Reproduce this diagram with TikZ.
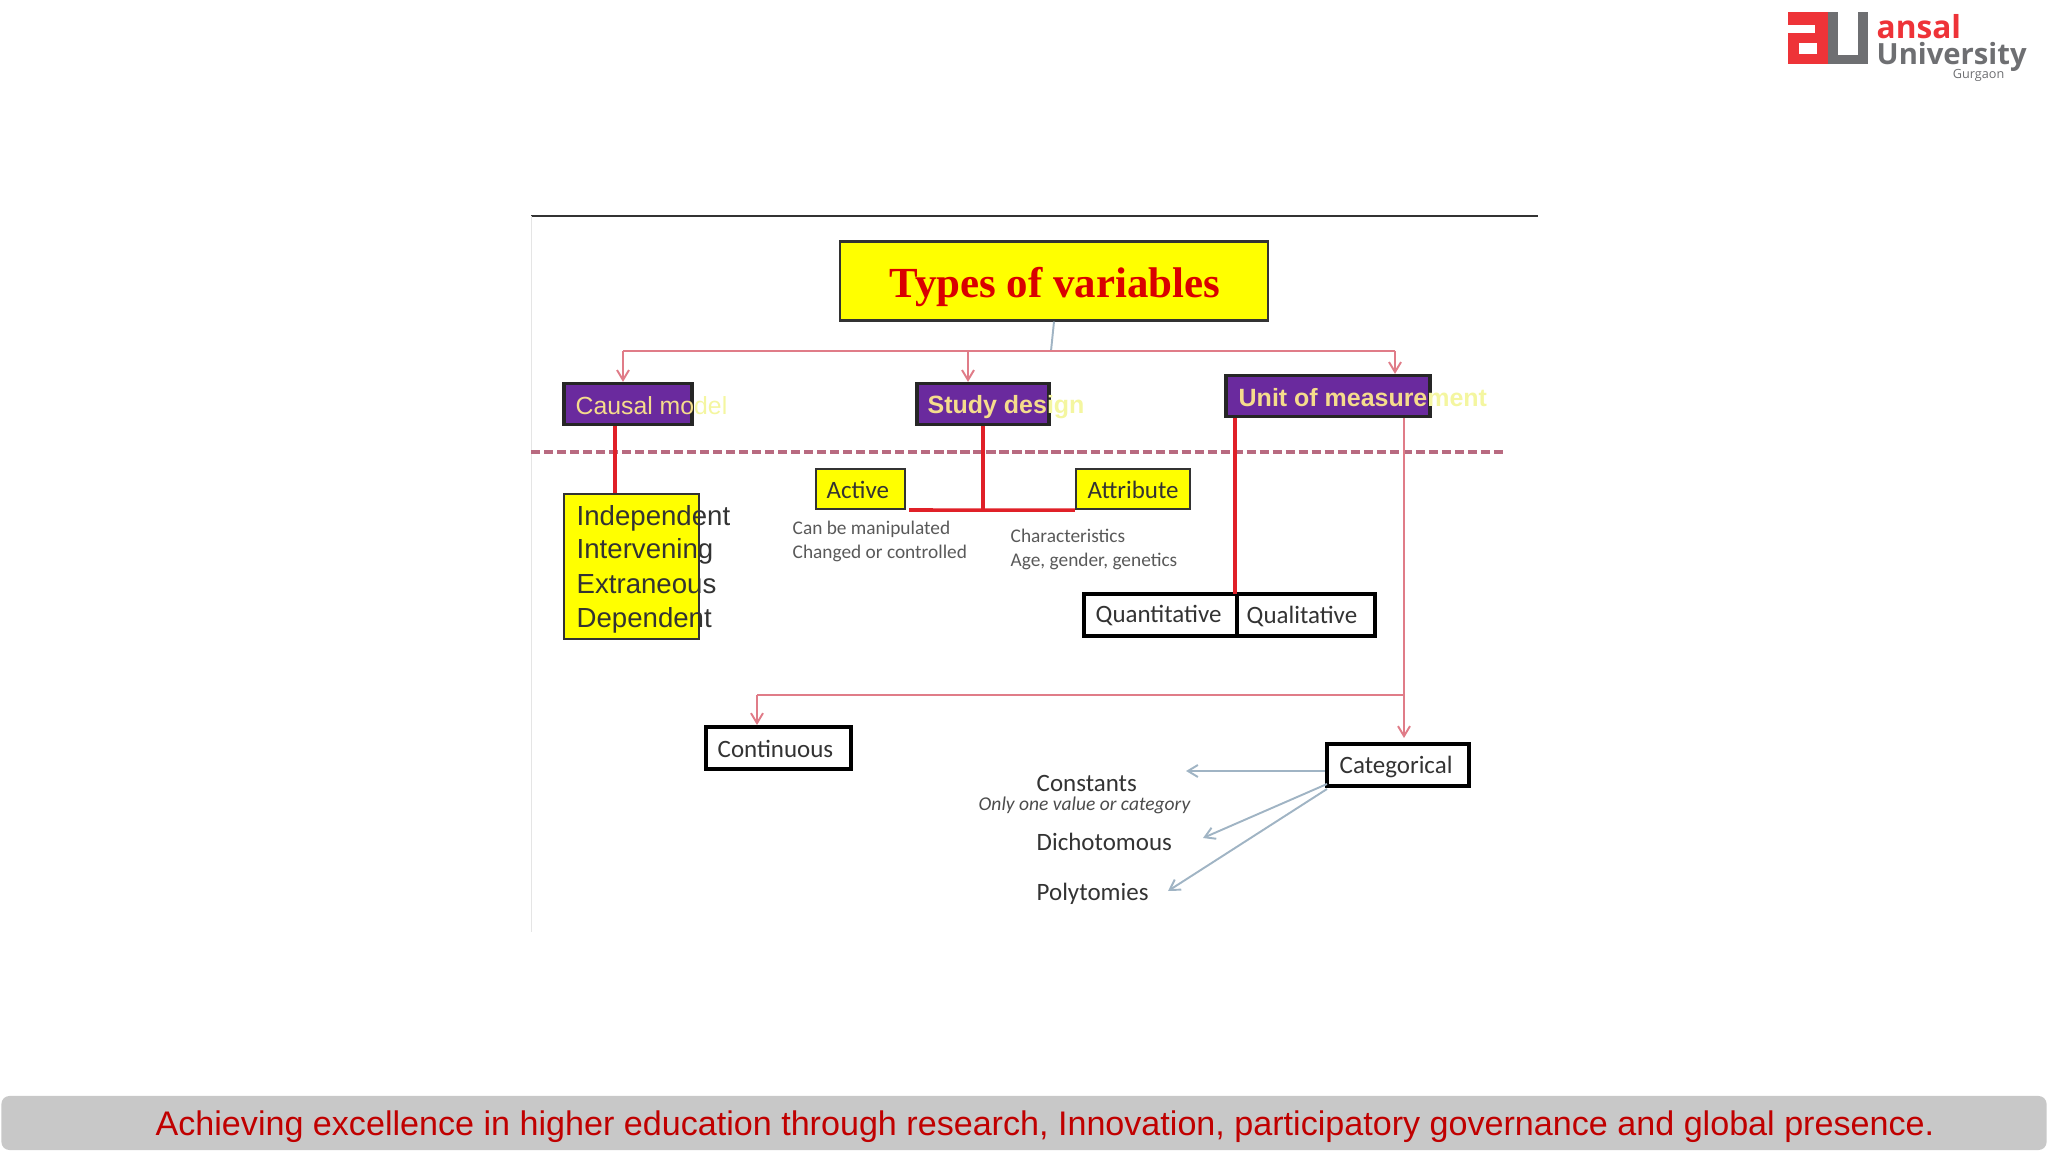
\documentclass[tikz,border=0pt]{standalone}
\usepackage{fontspec}
\setmainfont{Carlito}
\newfontfamily\arialfont{Liberation Sans}
\newfontfamily\titlefont{Liberation Serif}
\newfontfamily\logofont{Open Sans}
\usetikzlibrary{arrows.meta}
\definecolor{boxyellow}{HTML}{FFFF00}
\definecolor{boxpurple}{HTML}{6A2A9E}
\definecolor{labelpale}{HTML}{F5DC8C}
\definecolor{labelfade}{HTML}{F4F6A0}
\definecolor{linered}{HTML}{E02028}
\definecolor{linedash}{HTML}{B86A80}
\definecolor{linepink}{HTML}{E07C88}
\definecolor{lineblue}{HTML}{A0B4C4}
\definecolor{footgray}{HTML}{C8C8C8}
\definecolor{footred}{HTML}{C00000}
\definecolor{logored}{HTML}{EE3338}
\definecolor{loggray}{HTML}{6E6F72}
\newcommand{\fsz}[1]{\fontsize{#1}{#1}\selectfont}
\tikzset{
  purplebox/.style={draw=black!85,fill=boxpurple,line width=0.9pt,inner sep=0},
  yellowbox/.style={draw=black!80,fill=boxyellow,line width=0.6pt,inner sep=0},
  whitebox/.style={draw=black,fill=white,line width=1.1pt,inner sep=0},
  headtext/.style={anchor=west,inner sep=0,font=\arialfont\fsz{7.05}},
  boxtext/.style={inner sep=0,anchor=west,text=black!80,font=\fsz{7.1}},
  smalltext/.style={inner sep=0,anchor=west,text=black!65,font=\fsz{5.5}},
  listtext/.style={inner sep=0,anchor=west,text=black!80,font=\arialfont\fsz{7.85}},
  thickred/.style={draw=linered,line width=1pt},
  pinkline/.style={draw=linepink,line width=0.55pt},
  bluearrow/.style={draw=lineblue,line width=0.55pt,->}
}
\begin{document}
\begin{tikzpicture}[x=0.01cm,y=-0.01cm,>={Straight Barb[length=1mm,width=1.2mm]}]
  \useasboundingbox (0,0) rectangle (2048,1152);
  % marco de la diapositiva
  \draw[line width=0.7pt,black!80] (531,216)--(1538,216);
  \draw[line width=0.2pt,black!10] (531,216)--(531,932);
  % titulo
  \node[yellowbox,minimum width=4.28cm,minimum height=0.79cm] (types) at (1054,281) {};
  \node[inner sep=0,text=red!85!black,font=\titlefont\bfseries\fsz{12.2}] (typestxt) at (1055,287) {Types of variables};
  % tres ramas
  \node[purplebox,minimum width=1.28cm,minimum height=0.41cm] (causal) at (628,404) {};
  \node[purplebox,minimum width=1.32cm,minimum height=0.41cm] (study) at (983,404) {};
  \node[purplebox,minimum width=2.04cm,minimum height=0.41cm] (unit) at (1328,396) {};
  \node[headtext,text=labelpale] (causaltxt) at (575,406) {Causal mo\textcolor{labelfade}{del}};
  \node[headtext,text=labelpale,font=\arialfont\bfseries\fsz{7.1}] (studytxt) at (927,407) {Study des\textcolor{labelfade}{ign}};
  \node[headtext,text=labelpale,font=\arialfont\bfseries\fsz{7.1}] (unittxt) at (1238,398) {Unit of measure\textcolor{labelfade}{ment}};
  \coordinate (split) at (1051,351);
  \coordinate (causalin) at (623,351);
  \coordinate (studyin) at (968,351);
  \coordinate (unitin) at (1395,351);
  \draw[line width=0.55pt,lineblue] (types.south)--(split);
  \draw[pinkline] (causalin)--(unitin);
  \draw[pinkline,->] (causalin)--(causalin|-causal.north);
  \draw[pinkline,->] (studyin)--(studyin|-study.north);
  \draw[pinkline,->] (unitin)--(unitin|-unit.north);
  % linea punteada
  \coordinate (dashl) at (531,452);
  \coordinate (dashr) at (1505,452);
  \draw[draw=linedash,line width=0.9pt,dash pattern=on 2.6pt off 1.1pt] (dashl)--(dashr);
  % modelo causal
  \node[yellowbox,minimum width=1.35cm,minimum height=1.45cm] (list) at (631.5,566.5) {};
  \node[listtext] (indep) at (576,518) {Independent};
  \node[listtext] (interv) at (576,551) {Intervening};
  \node[listtext] (extra) at (576,584) {Extraneous};
  \node[listtext] (depen) at (576,620) {Dependent};
  \draw[thickred] (causal.south-|615,0)--(list.north-|615,0);
  % diseno
  \node[yellowbox,minimum width=0.89cm,minimum height=0.4cm] (active) at (860.5,489) {};
  \node[yellowbox,minimum width=1.14cm,minimum height=0.4cm] (attrib) at (1133,489) {};
  \node[boxtext] (activetxt) at (826,490) {Active};
  \node[boxtext] (attribtxt) at (1087,490) {Attribute};
  \node[smalltext] (manip) at (792,529) {Can be manipulated};
  \node[smalltext] (chang) at (792,553) {Changed or controlled};
  \node[smalltext] (charac) at (1010,536) {Characteristics};
  \node[smalltext] (agegen) at (1010,561) {Age, gender, genetics};
  \coordinate (barl) at (909,510);
  \coordinate (barm) at (983,510);
  \draw[thickred] (barl)--(attrib.south west);
  \draw[thickred] (study.south)--(barm);
  % unidad de medida
  \node[whitebox,minimum width=1.53cm,minimum height=0.42cm] (quanti) at (1160.5,615) {};
  \node[whitebox,minimum width=1.38cm,minimum height=0.42cm] (quali) at (1306,615) {};
  \node[boxtext] (quantitxt) at (1095,616) {Quantitative};
  \node[boxtext] (qualitxt) at (1246,616) {Qualitative};
  \coordinate (unitbar) at (1235,594);
  \draw[thickred] (unitbar|-unit.south)--(unitbar);
  % medida continua y categorica
  \node[whitebox,minimum width=1.45cm,minimum height=0.42cm] (contin) at (778.5,748) {};
  \node[whitebox,minimum width=1.42cm,minimum height=0.42cm] (categ) at (1398,765) {};
  \node[boxtext] (contintxt) at (717,749) {Continuous};
  \node[boxtext] (categtxt) at (1339,767) {Categorical};
  \coordinate (forkr) at (1404,695);
  \coordinate (forkl) at (757,695);
  \coordinate (categin) at (1404,738);
  \draw[pinkline,->] (forkr|-unit.south)--(categin);
  \draw[pinkline] (forkr)--(forkl);
  \draw[pinkline,->] (forkl)--(forkl|-contin.north);
  % categorias
  \node[boxtext] (const) at (1036,783) {Constants};
  \node[boxtext,font=\itshape\fsz{5.55},text=black!70] (onlyone) at (978,805) {Only one value or category};
  \node[boxtext] (dicho) at (1036,842) {Dichotomous};
  \node[boxtext] (polyt) at (1036,894) {Polytomies};
  \coordinate (consta) at (1186,771);
  \coordinate (dichoa) at (1203,838);
  \coordinate (polyta) at (1168,891);
  \coordinate (dichoo) at (1327,784);
  \coordinate (polyto) at (1327,789);
  \draw[bluearrow] (categ.west|-consta)--(consta);
  \draw[bluearrow] (dichoo)--(dichoa);
  \draw[bluearrow] (polyto)--(polyta);
  % logo
  \fill[logored] (1788,12) rectangle (1828,64);
  \fill[white] (1788,25) rectangle (1815,33);
  \fill[white] (1799,43) rectangle (1817,54);
  \fill[loggray] (1828,12) rectangle (1868,64);
  \fill[white] (1838,12) rectangle (1858,55);
  \node[anchor=west,inner sep=0,text=logored,font=\logofont\bfseries\fsz{9}] (ansal) at (1876,27) {ansal};
  \node[anchor=west,inner sep=0,text=loggray,font=\logofont\bfseries\fsz{8.3}] (univ) at (1876,57) {University};
  \node[anchor=east,inner sep=0,text=loggray,font=\logofont\fsz{3.6}] (gurg) at (2005,75) {Gurgaon};
  % pie
  \node[fill=footgray,rounded corners=0.08cm,minimum width=20.44cm,minimum height=0.54cm,inner sep=0] (foot) at (1024,1123) {};
  \node[inner sep=0,text=footred,font=\arialfont\fsz{9.7}] (foottxt) at (1045,1127)
    {Achieving excellence in higher education through research, Innovation, participatory governance and global presence.};
\end{tikzpicture}
\end{document}
